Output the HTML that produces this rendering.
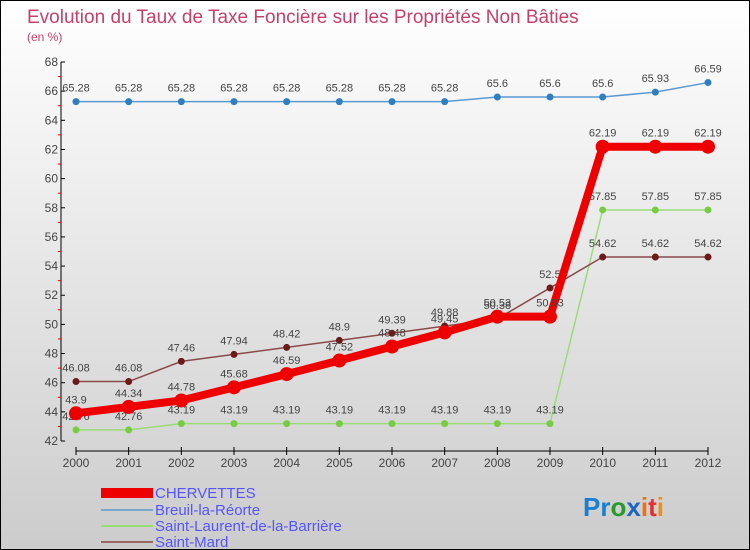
<!DOCTYPE html>
<html><head><meta charset="utf-8"><style>
body{margin:0}
#c{width:750px;height:550px;position:relative;box-sizing:border-box;border:1px solid #000;background:linear-gradient(#fff,#ccc);font-family:"Liberation Sans",sans-serif;overflow:hidden}
</style></head><body>
<div id="c">
<svg id="s" width="748" height="548" xmlns="http://www.w3.org/2000/svg">
<text x="26" y="22" font-size="19" fill="#c8406a">Evolution du Taux de Taxe Foncière sur les Propriétés Non Bâties</text>
<text x="26" y="40" font-size="12" fill="#c8406a">(en %)</text>
<g id="g"></g>
<rect x="100" y="487" width="52" height="10" fill="#e00"/>
<text x="154" y="497" font-size="15" fill="#55f">CHERVETTES</text>
<line x1="100" y1="509" x2="152" y2="509" stroke="#7aa8cc" stroke-width="2"/>
<text x="154" y="514" font-size="15" fill="#55f">Breuil-la-Réorte</text>
<line x1="100" y1="525" x2="152" y2="525" stroke="#99dd77" stroke-width="2"/>
<text x="154" y="530" font-size="15" fill="#55f">Saint-Laurent-de-la-Barrière</text>
<line x1="100" y1="541" x2="152" y2="541" stroke="#996666" stroke-width="2"/>
<text x="154" y="546" font-size="15" fill="#55f">Saint-Mard</text>
<text x="582" y="515" font-size="26" font-weight="bold"><tspan fill="#1a7fd0">Pr</tspan><tspan fill="#2a9a2a">o</tspan><tspan fill="#1a66c0">x</tspan><tspan fill="#f07010">i</tspan><tspan fill="#e03030">t</tspan><tspan fill="#f09010">i</tspan></text>
</svg></div>
<script>
const years=[2000,2001,2002,2003,2004,2005,2006,2007,2008,2009,2010,2011,2012];
const yTicks=[42,44,46,48,50,52,54,56,58,60,62,64,66,68];
const chervettes=[43.9,44.34,44.78,45.68,46.59,47.52,48.48,49.45,50.53,50.53,62.19,62.19,62.19];
const breuil=[65.28,65.28,65.28,65.28,65.28,65.28,65.28,65.28,65.6,65.6,65.6,65.93,66.59];
const saintLaurent=[42.76,42.76,43.19,43.19,43.19,43.19,43.19,43.19,43.19,43.19,57.85,57.85,57.85];
const saintMard=[46.08,46.08,47.46,47.94,48.42,48.9,49.39,49.88,50.38,52.5,54.62,54.62,54.62];
const NS='http://www.w3.org/2000/svg',g=document.getElementById('g');
const X=i=>75+i*(632/12), Y=v=>440-(v-42)*(379/26);
function el(t,a,name){const e=document.createElementNS(NS,t);for(const k in a)e.setAttribute(k,a[k]);


g.appendChild(e);return e;}
el('line',{x1:60,y1:Y(68),x2:60,y2:440,stroke:'#000'},'y-axis');
el('line',{x1:75,y1:450,x2:707,y2:450,stroke:'#000'},'x-axis');
yTicks.forEach(v=>{el('line',{x1:60,y1:Y(v),x2:64,y2:Y(v),stroke:'#000'},'y-tick');
el('line',{x1:57,y1:Y(v+1),x2:60,y2:Y(v+1),stroke:v<68?'#e00':'none'},'y-minor-tick');
const t=el('text',{x:57,y:Y(v)+4,'font-size':12,fill:'#444','text-anchor':'end'},'y-tick-label');t.textContent=v;});
years.forEach((y,i)=>{el('line',{x1:X(i),y1:446,x2:X(i),y2:454,stroke:'#000'},'x-tick');
const t=el('text',{x:X(i),y:466,'font-size':12,fill:'#444','text-anchor':'middle'},'x-tick-label');t.textContent=y;});
function series(d,col,w,r,fill,name){
el('polyline',{points:d.map((v,i)=>X(i)+','+Y(v)).join(' '),fill:'none',stroke:col,'stroke-width':w},name+'-line');
d.forEach((v,i)=>{el('circle',{cx:X(i),cy:Y(v),r:r,fill:fill},name+'-point');
const t=el('text',{x:X(i),y:Y(v)-10,'font-size':11,fill:'#444','text-anchor':'middle'},name+'-value');t.textContent=v;});}
series(breuil,'#5a9ad0',1.5,3.5,'#2f7fc0','breuil');
series(saintLaurent,'#99dd77',1.5,3.5,'#77cc44','saint-laurent');
series(saintMard,'#8a4a4a',1.5,3.5,'#6a1a1a','saint-mard');
series(chervettes,'#ee0000',8,7,'#ee0000','chervettes');
</script>
</body></html>
